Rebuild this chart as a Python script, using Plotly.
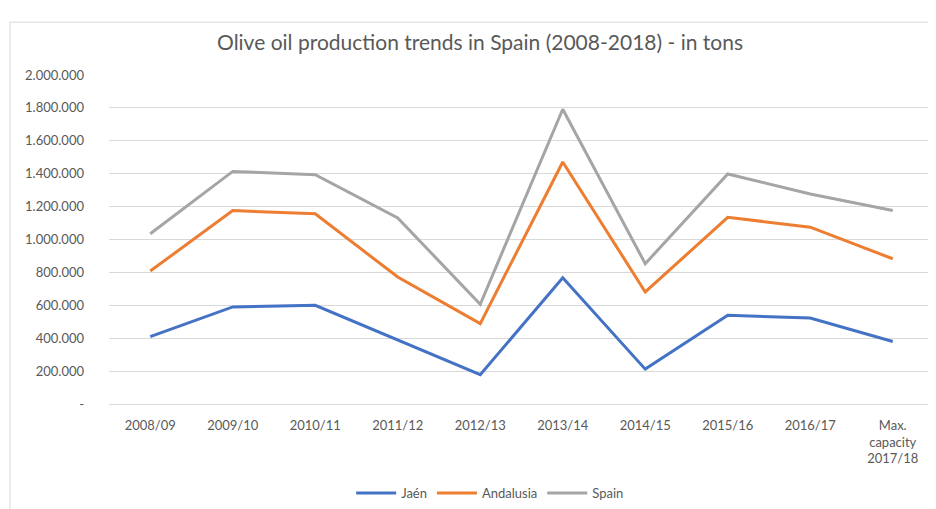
import plotly.graph_objects as go

categories = ["2008/09", "2009/10", "2010/11", "2011/12", "2012/13", "2013/14",
              "2014/15", "2015/16", "2016/17", "Max.<br>capacity<br>2017/18"]
jaen = [410000, 590000, 600000, 390000, 178000, 768000, 212000, 539000, 523000, 380000]
andalusia = [808000, 1176000, 1156000, 772000, 489000, 1471000, 681000, 1135000, 1075000, 883000]
spain = [1035000, 1414000, 1394000, 1131000, 606000, 1792000, 853000, 1398000, 1277000, 1176000]

y_tickvals = [0, 200000, 400000, 600000, 800000, 1000000, 1200000, 1400000, 1600000, 1800000, 2000000]
y_ticktext = ["-", "200.000", "400.000", "600.000", "800.000", "1.000.000", "1.200.000",
              "1.400.000", "1.600.000", "1.800.000", "2.000.000"]

series = [("Jaén", jaen, "#4472C4"), ("Andalusia", andalusia, "#ED7D31"), ("Spain", spain, "#A5A5A5")]

fig = go.Figure()
for name, vals, color in series:
    fig.add_trace(go.Scatter(x=categories, y=vals, name=name, mode="lines",
                             line=dict(color=color, width=3)))

font_family = "Lato, Open Sans, sans-serif"
L, T, W, H = 101, 67, 825, 330
fig.update_layout(
    width=936, height=509,
    margin=dict(l=L, r=936 - L - W, t=T, b=509 - T - H),
    paper_bgcolor="white", plot_bgcolor="white",
    font=dict(family=font_family, color="#595959", size=13),
    title=dict(text="Olive oil production trends in Spain (2008-2018) - in tons",
               x=472 / 936, xanchor="center", y=1 - 35 / 509, yanchor="middle",
               font=dict(size=21, color="#595959", family=font_family)),
    legend=dict(orientation="h", x=0.462, xanchor="center", y=-0.267, yanchor="middle",
                font=dict(size=13, color="#595959"), itemwidth=40),
    showlegend=True,
    shapes=[
        dict(type="line", xref="paper", yref="paper", x0=(2 - L) / W, x1=1.05,
             y0=(T + H - 14) / H, y1=(T + H - 14) / H, line=dict(color="#D9D9D9", width=1)),
        dict(type="line", xref="paper", yref="paper", x0=(2 - L) / W, x1=(2 - L) / W,
             y0=(T + H - 14) / H, y1=-0.4, line=dict(color="#D9D9D9", width=1)),
    ],
)
fig.update_xaxes(range=[-0.5, 9.5], automargin=False, showgrid=False, showline=True,
                 linecolor="#D9D9D9", linewidth=1,
                 ticks="", tickfont=dict(size=13, color="#595959"), ticklabelstandoff=9)
fig.update_yaxes(range=[0, 2000000], automargin=False, tickvals=y_tickvals, ticktext=y_ticktext,
                 showgrid=True, gridcolor="#D9D9D9", gridwidth=1, zeroline=False,
                 showline=False, tickfont=dict(size=13, color="#595959"), ticklabelstandoff=24)

fig.write_html("out.html")
